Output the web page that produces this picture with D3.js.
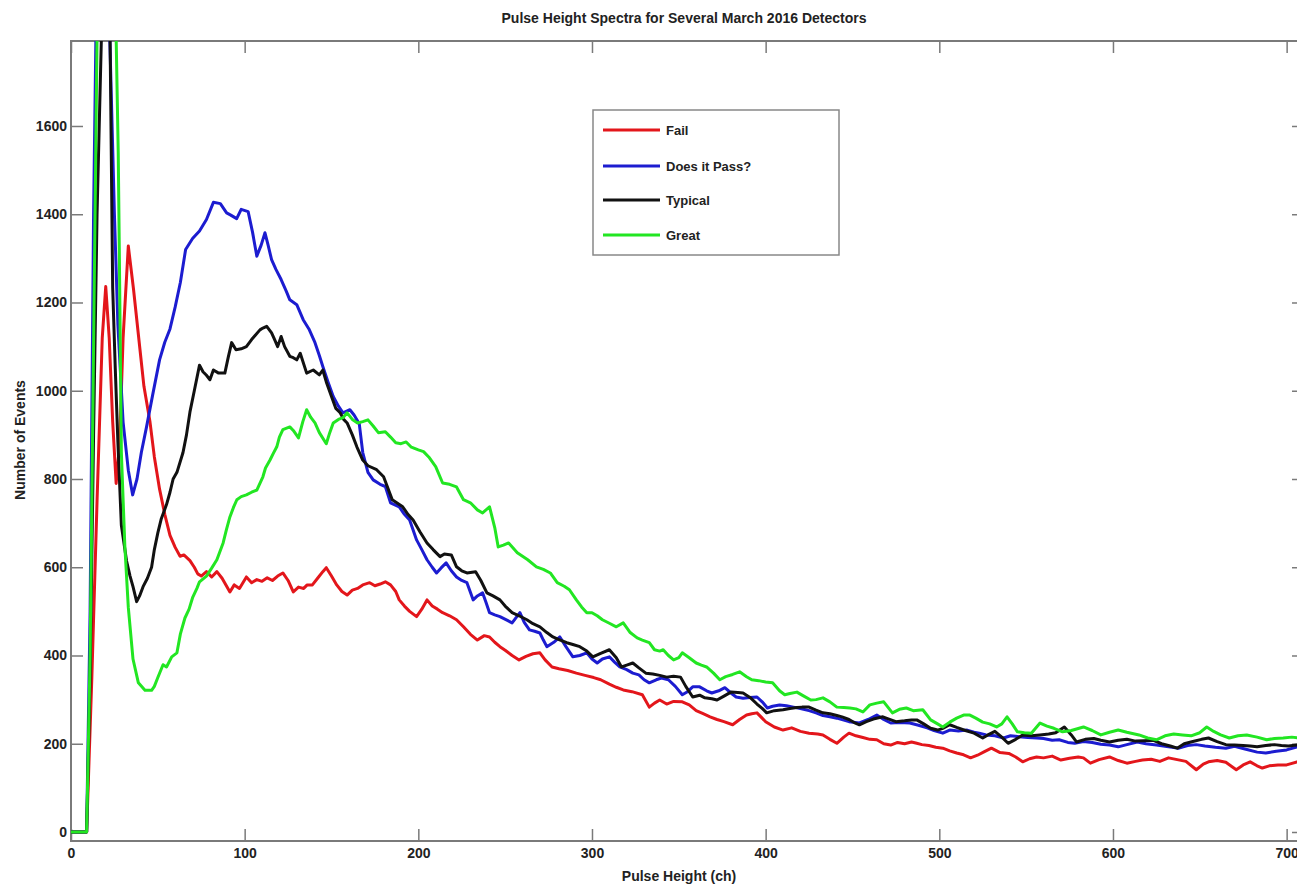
<!DOCTYPE html>
<html>
<head>
<meta charset="utf-8">
<script src="https://cdn.jsdelivr.net/npm/d3@7"></script>
<style>
  body { margin: 0; background: #fff; }
  svg { display: block; font-family: "Liberation Sans", Arial, sans-serif; font-weight: bold; }
  .axis text { font-size: 14px; fill: #222; }
  .axis line { stroke: #7a7a7a; stroke-width: 1.5px; }
</style>
</head>
<body>
<div id="chart"></div>
<script>
// [channel, events]
const fail = [[0,0],[9,0],[12,350],[15,750],[18,1120],[20,1236],[22,1120],[24,930],[26,790],[28,880],[30,1120],[33,1328],[36,1230],[39.7,1094],[42,1010],[45.5,929],[48,850],[51,777],[54,720],[57,672],[60,645],[62.8,625],[65,628],[68.5,615],[71,600],[73,585],[75,580],[78,590],[81,578],[84,590],[87,575],[91.5,544],[94,560],[97,552],[101,578],[104,565],[107,572],[110,568],[113,576],[116,570],[119,580],[122,587],[125,570],[128,544],[131,555],[134,552],[136,560],[139,560],[142,575],[145,590],[147,599],[150,580],[153,560],[156,545],[159,537],[162,548],[165,552],[168,560],[172,565],[175,558],[178,562],[181,567],[184,560],[187,545],[189,526],[192,512],[195,500],[199,488],[202,505],[205,526],[208,512],[211,505],[214,497],[218,490],[222,481],[226,465],[230,448],[234,435],[238,445],[241,442],[244,430],[247,420],[250,412],[254,400],[258,390],[262,398],[266,404],[270,406],[273,390],[277,374],[281,370],[286,366],[291,360],[296,355],[301,350],[305,345],[310,335],[314,328],[318,322],[323,318],[329,311],[333,283],[336,292],[339,299],[343,290],[347,296],[352,295],[356,288],[360,275],[364,268],[368,261],[372,255],[376,250],[381,243],[385,255],[389,265],[392,268],[395,270],[400,250],[405,238],[410,231],[415,236],[420,228],[425,224],[430,222],[433,220],[437,210],[441,201],[445,215],[448,224],[452,218],[456,214],[460,210],[464,209],[468,200],[472,197],[476,203],[480,200],[484,204],[487,201],[490,198],[494,196],[498,192],[502,190],[506,184],[510,179],[514,175],[518,168],[522,174],[526,182],[530,190],[535,180],[540,178],[544,170],[548,159],[552,166],[556,170],[560,168],[565,172],[570,163],[575,167],[580,170],[583,168],[587,156],[592,164],[598,170],[603,162],[608,156],[613,160],[617,163],[622,165],[627,160],[632,168],[637,164],[642,160],[648,141],[652,154],[655,159],[660,162],[665,158],[671,141],[675,152],[679,159],[683,150],[686,145],[690,150],[695,152],[700,152],[706,159],[712,160]]

const doesItPass = [[0,0],[9,0],[11,500],[13,1400],[15,2000],[18,2300],[21,2000],[23,1700],[25,1400],[27,1150],[30,929],[33,820],[35.5,764],[38,800],[40.5,860],[43.5,918],[47,990],[51,1070],[54,1110],[57,1140],[60,1190],[63,1246],[66,1320],[70,1345],[74,1362],[78,1388],[82,1427],[86,1424],[89.6,1403],[92,1398],[95.4,1390],[98,1411],[102,1406],[104.5,1360],[107,1305],[109.5,1330],[111.7,1358],[113.5,1330],[115.5,1297],[118,1275],[121,1252],[124,1225],[126,1206],[130,1195],[133.7,1161],[137,1140],[140.5,1109],[143,1080],[145,1055],[148,1020],[151,987],[154,965],[156.6,950],[160.6,957],[163,945],[166,925],[168,860],[171,815],[174,798],[178,788],[181,783],[184,746],[189,737],[192,720],[195,707],[199,662],[202,640],[205,617],[208,600],[210.5,587],[213,598],[216,610],[219,592],[222,578],[225,570],[228,565],[231.6,526],[234,535],[237,542],[239,520],[241,497],[244,492],[247,488],[251,480],[254,474],[258.5,497],[261,475],[264,458],[267,455],[270,451],[272,435],[274,420],[278,430],[281.5,442],[285,420],[289,397],[293,400],[297,406],[300,392],[303,383],[306,392],[310,397],[313,385],[316,374],[320,368],[323.5,360],[327,356],[330,345],[333,338],[337,345],[340,349],[344,345],[348,330],[352,311],[355,318],[358,329],[362,329],[366,320],[369,315],[373,320],[376.5,327],[380,315],[383,306],[387,303],[391,305],[395,306],[398,295],[401,281],[404,285],[408,288],[412,286],[416,283],[420,280],[425,275],[429,270],[433,264],[437,261],[441,258],[444.5,254],[448,250],[454,247],[459,255],[464,265],[468,255],[472,247],[477,248],[483,247],[488,242],[493,236],[497,230],[502,224],[506,231],[511,229],[516,231],[520,226],[523,224],[527,220],[532,218],[537,213],[541,218],[546,216],[551,214],[556,213],[560,212],[565,208],[569,209],[574,203],[578,201],[583,205],[588,203],[593,199],[598,197],[603,193],[608,198],[614,204],[619,200],[625,197],[631,194],[638,190],[643,196],[648,198],[653,195],[659,192],[665,190],[670,194],[676,188],[683,181],[688,179],[694,183],[700,186],[706,193],[712,195]]

const typical = [[0,0],[9,0],[11,350],[13,900],[15,1400],[17.5,1800],[20,2050],[22.5,1800],[24,1234],[25.5,1050],[27,884],[29,695],[32,614],[34,580],[35.7,556],[37.8,522],[39.5,535],[41.5,556],[44,575],[46.4,600],[48,640],[50,678],[52,710],[55,742],[57,770],[58.8,800],[61,815],[64.5,860],[66.5,900],[68.5,952],[71,1000],[74,1058],[76,1043],[78,1035],[80,1025],[82,1047],[85,1040],[88.6,1040],[90.5,1075],[92.5,1109],[95,1093],[98,1095],[101,1100],[104,1116],[106,1125],[108.8,1138],[110.5,1142],[112.7,1146],[115.5,1131],[117,1118],[119,1100],[121,1123],[123,1100],[126,1078],[128,1075],[130,1070],[132,1085],[135.7,1040],[139.5,1047],[143,1036],[145,1047],[147,1020],[150,987],[152.5,960],[155,950],[157,935],[159,927],[162,900],[164.6,873],[168,843],[171,830],[176,821],[180,805],[185,753],[188,745],[191,737],[194,720],[197,707],[201,680],[205,655],[208.5,640],[212.5,624],[215,630],[219,628],[222,601],[225,592],[228,587],[233,590],[236,570],[239.5,542],[243,535],[247,526],[250,512],[254,497],[258,490],[262.5,481],[266,472],[270,465],[274,452],[277.5,442],[281,436],[285.5,429],[289,425],[293,420],[297,410],[300.5,397],[305,405],[310,413],[314,395],[317,374],[320,378],[323.5,383],[327,372],[331,360],[335,358],[339,355],[343,351],[347,353],[351,351],[354,330],[358,306],[362,310],[365,304],[369,302],[372,299],[376,308],[380,317],[384,316],[387,315],[391,305],[395,290],[398,280],[400.6,270],[405,275],[410,277],[414,280],[418,282],[421,283],[425,283],[429,276],[433,270],[437,268],[441,264],[444,261],[448,255],[451,248],[454,243],[458,250],[462,256],[467.5,261],[471,256],[475,250],[480,252],[484,254],[487,254],[491,245],[495,235],[499,231],[502,235],[506,243],[510,237],[515,230],[520,224],[525,213],[528,220],[532,228],[536,215],[539.6,201],[544,210],[548,220],[553,218],[558,220],[563,222],[567,225],[572,238],[576,220],[579,204],[584,210],[589,212],[593,208],[598,204],[603,208],[608,210],[613,206],[618,207],[623,208],[628,200],[633,195],[637,190],[641,200],[646,205],[651,210],[655,213],[660,205],[665,198],[670,197],[675,196],[679,195],[683,193],[688,196],[693,198],[697,196],[701,195],[706,197],[712,196]]

const great = [[0,0],[9,0],[11,400],[13,1100],[15,1800],[18,2300],[21,2450],[24,2100],[26,1800],[27.2,1540],[28,1250],[29,860],[31,648],[33,509],[35.7,392],[38.8,338],[42.6,321],[46.4,321],[48,330],[50,350],[53,379],[55,374],[58,397],[61,406],[63,449],[65.6,485],[68,505],[70,531],[72.5,552],[74,567],[78,580],[81,598],[84,617],[87.6,655],[89.5,685],[91.5,714],[93.5,735],[95.5,753],[98,760],[101,764],[104,770],[107,775],[110.5,805],[112,825],[114.6,843],[116.5,858],[118.5,873],[120,895],[122,912],[126,918],[128,910],[131,893],[133.5,930],[135.7,957],[138,940],[140.5,927],[143,905],[147,880],[149,905],[151,927],[154,935],[156.6,939],[159,950],[162,935],[165,927],[168,930],[171,934],[174,920],[177,905],[181,907],[184,895],[187,882],[190,880],[193,884],[196,872],[200,866],[203,862],[206,850],[210,828],[214,791],[218,788],[222,782],[226,753],[230,746],[234,730],[237,723],[241,737],[244,690],[246,646],[249,650],[252,655],[257,633],[260,625],[263,617],[268,601],[272,595],[276,587],[280,565],[284,557],[287,549],[291,526],[294,510],[297,497],[300,497],[303,490],[306,481],[310,473],[314,465],[318,474],[322,452],[326,440],[329,435],[333,429],[336,413],[339,410],[341,413],[344,400],[347,390],[350,395],[352,406],[356,395],[360,383],[363,378],[366,374],[370,360],[373.6,345],[377,352],[381,357],[385,363],[389,352],[392,345],[396,343],[400,340],[404,338],[408,320],[411,311],[414,314],[418,317],[422,308],[426,299],[429,300],[433,304],[437,295],[441,283],[445,282],[448.5,281],[452,279],[456,272],[460,288],[464,292],[468,295],[473,270],[477,278],[481,281],[485,275],[490.5,277],[495,254],[499,245],[502,238],[506,249],[510,258],[514,265],[517.6,265],[521,258],[525,249],[529,245],[533,238],[536,245],[539,261],[542,245],[545,227],[549,225],[553,224],[558,247],[562,240],[566,235],[571,227],[576,230],[583,238],[588,230],[593,220],[598,226],[603,231],[608,226],[615,220],[620,213],[625,209],[630,218],[635,222],[640,220],[645,218],[650,225],[654,238],[658,228],[662,220],[667,213],[672,218],[677,220],[683,215],[688.5,209],[693,212],[698,213],[703,215],[708,213],[712,212]]

const seriesNames = ['Fail', 'Does it Pass?', 'Typical', 'Great']
const seriesColors = ['#e3161b', '#1c1cd0', '#111111', '#22e622']
const xTicks = [0, 100, 200, 300, 400, 500, 600, 700]
const yTicks = [0, 200, 400, 600, 800, 1000, 1200, 1400, 1600]

const width = 1297, height = 888
const margin = {top: 41, left: 71}
const plotRight = 1304, plotBottom = 841

const svg = d3.select('#chart').append('svg')
    .attr('width', width)
    .attr('height', height)

svg.append('rect').attr('width', width).attr('height', height).attr('fill', '#fff')

const xScale = d3.scaleLinear().domain([0, 710]).range([margin.left, plotRight])
const yScale = d3.scaleLinear().domain([-20.4, 1792.6]).range([plotBottom, margin.top])

svg.append('clipPath').attr('id', 'plotClip')
  .append('rect')
    .attr('x', margin.left).attr('y', margin.top)
    .attr('width', plotRight - margin.left).attr('height', plotBottom - margin.top)

// box around the plot (matlab style)
svg.append('rect')
    .attr('x', margin.left).attr('y', margin.top)
    .attr('width', plotRight - margin.left).attr('height', plotBottom - margin.top)
    .attr('fill', 'none').attr('stroke', '#7a7a7a').attr('stroke-width', 2)

// ticks point inward on all four sides
const tickLen = 12
svg.append('g').attr('class', 'axis')
    .attr('transform', `translate(0,${plotBottom})`)
    .call(d3.axisBottom(xScale).tickValues(xTicks).tickFormat(d3.format('d'))
        .tickSizeInner(-tickLen).tickSizeOuter(0).tickPadding(7))
svg.append('g').attr('class', 'axis')
    .attr('transform', `translate(0,${margin.top})`)
    .call(d3.axisTop(xScale).tickValues(xTicks).tickSizeInner(-tickLen).tickSizeOuter(0).tickFormat(''))
svg.append('g').attr('class', 'axis')
    .attr('transform', `translate(${margin.left},0)`)
    .call(d3.axisLeft(yScale).tickValues(yTicks).tickFormat(d3.format('d'))
        .tickSizeInner(-tickLen).tickSizeOuter(0).tickPadding(4))
svg.append('g').attr('class', 'axis')
    .attr('transform', `translate(${plotRight},0)`)
    .call(d3.axisRight(yScale).tickValues(yTicks).tickSizeInner(-tickLen).tickSizeOuter(0).tickFormat(''))
svg.selectAll('.axis .domain').remove()

// spectra
const line = d3.line().x(d => xScale(d[0])).y(d => yScale(d[1]))
const plotGroup = svg.append('g').attr('clip-path', 'url(#plotClip)')
;[fail, doesItPass, typical, great].forEach((data, i) => {
    plotGroup.append('path')
        .datum(data)
        .attr('d', line)
        .attr('fill', 'none')
        .attr('stroke', seriesColors[i])
        .attr('stroke-width', 3)
        .attr('stroke-linejoin', 'round')
})

// titles
svg.append('text')
    .attr('x', 684).attr('y', 23)
    .attr('text-anchor', 'middle').attr('font-size', 14).attr('fill', '#222')
    .text('Pulse Height Spectra for Several March 2016 Detectors')
svg.append('text')
    .attr('x', 679).attr('y', 881)
    .attr('text-anchor', 'middle').attr('font-size', 14).attr('fill', '#222')
    .text('Pulse Height (ch)')
svg.append('text')
    .attr('transform', 'translate(25,440) rotate(-90)')
    .attr('text-anchor', 'middle').attr('font-size', 14).attr('fill', '#222')
    .text('Number of Events')

// legend
const legend = svg.append('g').attr('transform', 'translate(593,110)')
legend.append('rect')
    .attr('width', 246).attr('height', 145)
    .attr('fill', '#fff').attr('stroke', '#888').attr('stroke-width', 1.5)
const legendRows = [20, 56, 90, 125]
seriesNames.forEach((name, i) => {
    const row = legend.append('g').attr('transform', `translate(0,${legendRows[i]})`)
    row.append('line')
        .attr('x1', 10).attr('x2', 67)
        .attr('stroke', seriesColors[i]).attr('stroke-width', 3)
    row.append('text')
        .attr('x', 73).attr('dy', '0.35em')
        .attr('font-size', 13).attr('fill', '#222')
        .text(name)
})
</script>
</body>
</html>
